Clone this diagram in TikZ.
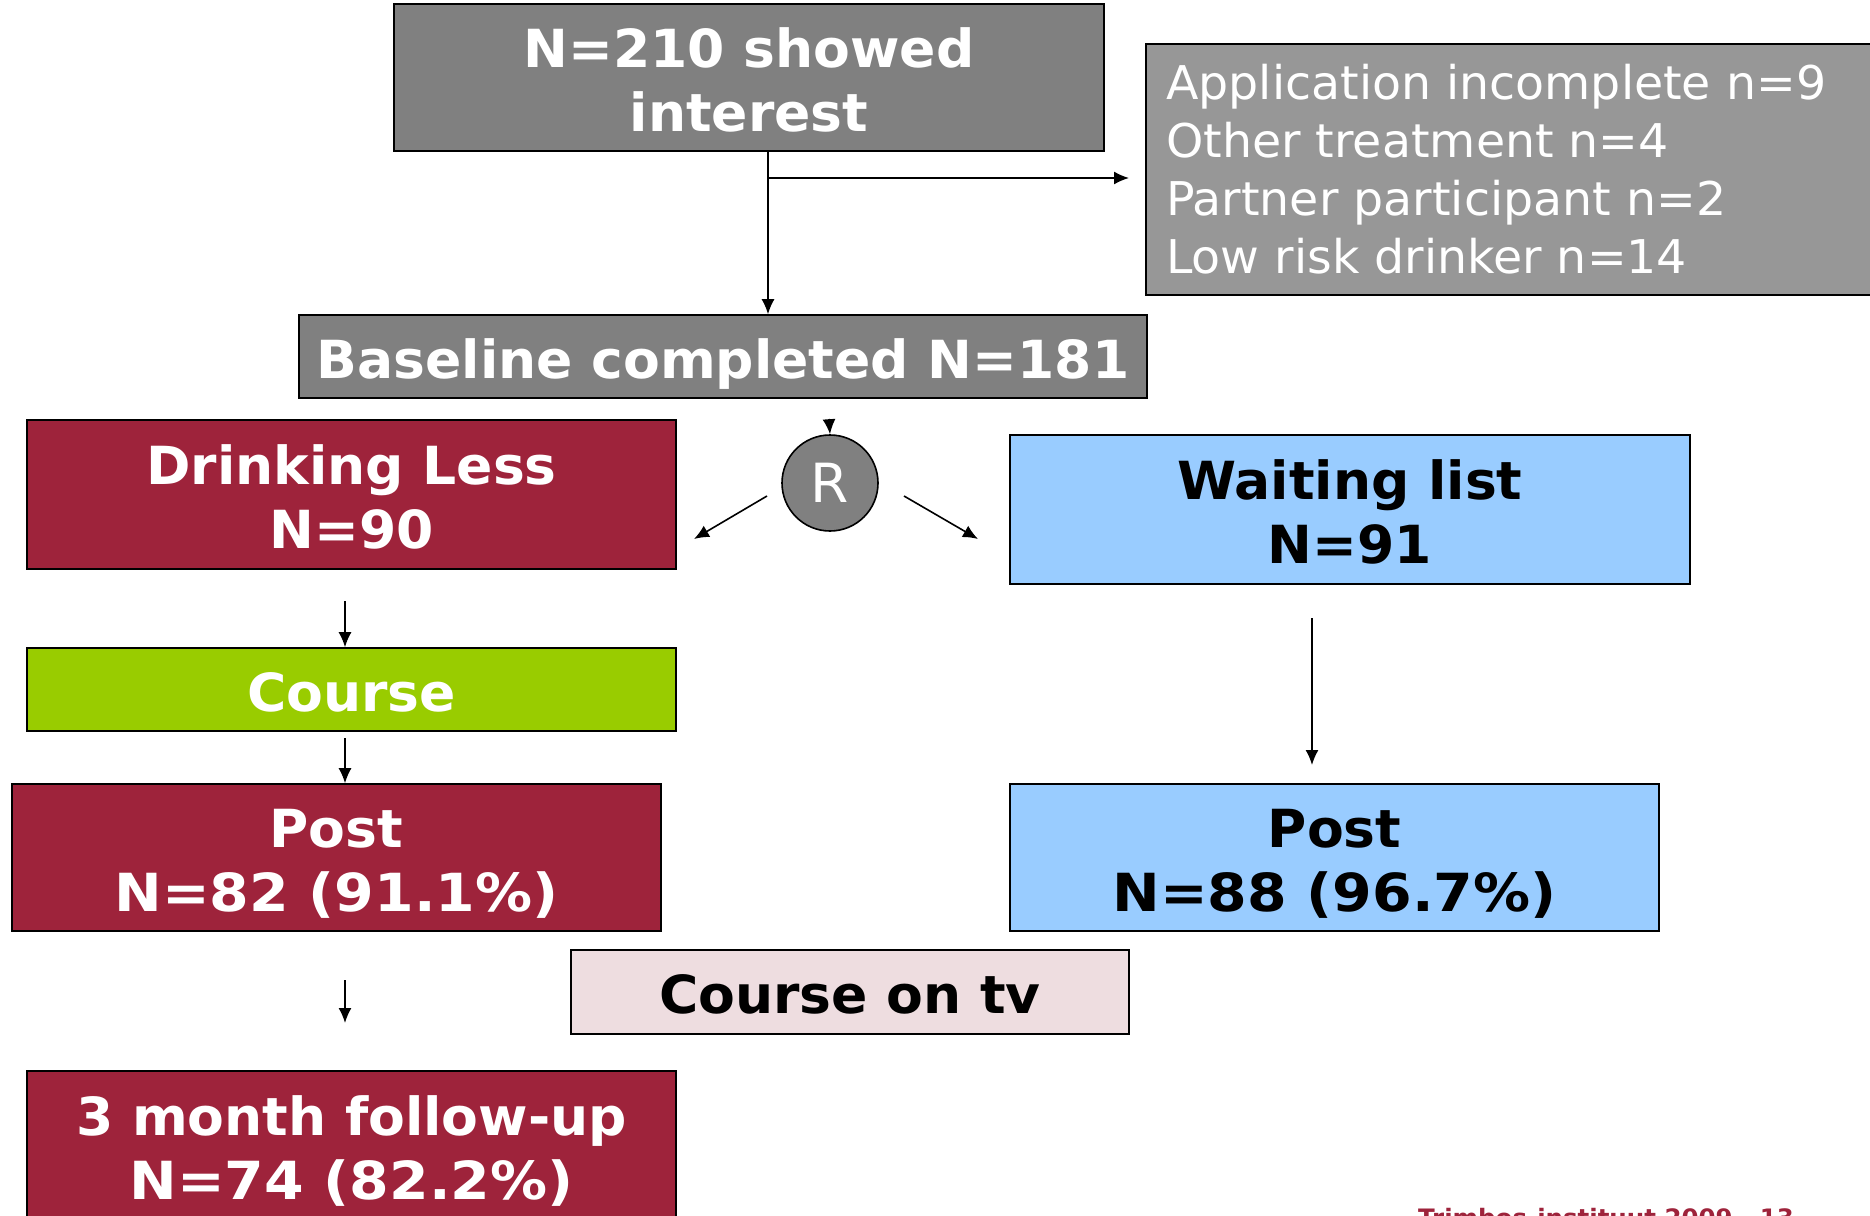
\documentclass[tikz,border=0pt]{standalone}
\usepackage{fontspec}
\setmainfont[FakeStretch=1.02]{DejaVu Sans}
\newfontfamily\widefont[FakeStretch=1.085]{DejaVu Sans}
\usetikzlibrary{arrows.meta}
\definecolor{maroonbox}{HTML}{9E233B}
\definecolor{greybox}{HTML}{808080}
\definecolor{lightgreybox}{HTML}{979797}
\definecolor{greenbox}{HTML}{99CC00}
\definecolor{bluebox}{HTML}{99CCFF}
\definecolor{pinkbox}{HTML}{EEDDE0}
\tikzset{
  box/.style={draw=black, line width=1.6pt, inner sep=0pt, align=center,
    font=\bfseries\fontsize{52.5}{64}\selectfont},
  oneline/.style={text height=43pt, text depth=0pt},
  twoline/.style={text height=107pt, text depth=0pt},
  greyb/.style={box, fill=greybox, text=white},
  maroonb/.style={box, fill=maroonbox, text=white, minimum width=649pt},
  blueb/.style={box, fill=bluebox, text=black},
  arr/.style={line width=1.6pt, -{Latex[length=15pt,width=13pt]}},
}
\begin{document}
\begin{tikzpicture}[x=1pt,y=-1pt]
\useasboundingbox (0,0) rectangle (1870,1215);
\clip (0,0) rectangle (1870,1215);
% nodes
\node[greyb, twoline, minimum width=710pt, minimum height=147pt] (top) at (749,77.5) {N=210 showed\\interest};
\node[box, fill=lightgreybox, minimum width=750pt, minimum height=251pt] (excl) at (1521,169.5) {};
\node[anchor=west, text=white, align=left, inner sep=0pt, font=\fontsize{46.5}{58}\selectfont] (excltext) at (1166,169.5)
  {Application incomplete n=9\\Other treatment n=4\\Partner participant n=2\\Low risk drinker n=14};
\node[greyb, oneline, minimum width=848pt, minimum height=83pt] (base) at (723,356.5) {Baseline completed N=181};
\node[maroonb, twoline, minimum height=149pt] (drink) at (351.5,494.5) {Drinking Less\\N=90};
\node[circle, draw=black, line width=1.6pt, fill=greybox, text=white, minimum size=96pt, inner sep=0pt,
  font=\fontsize{54}{60}\selectfont] (R) at (830,483) {R};
\node[blueb, twoline, minimum width=680pt, minimum height=149pt] (wait) at (1350,509.5) {Waiting list\\N=91};
\node[box, oneline, fill=greenbox, text=white, minimum width=649pt, minimum height=83pt] (course) at (351.5,689.5) {Course};
\node[maroonb, twoline, minimum height=147pt] (postL) at (336.5,857.5) {Post\\{\widefont N=82 (91.1\%)}};
\node[blueb, twoline, minimum width=649pt, minimum height=147pt] (postR) at (1334.5,857.5) {Post\\{\widefont N=88 (96.7\%)}};
\node[box, oneline, fill=pinkbox, text=black, minimum width=558pt, minimum height=84pt] (tv) at (850,992) {Course on tv};
\node[maroonb, twoline, minimum height=149pt] (follow) at (351.5,1145.5) {3 month follow-up\\{\widefont N=74 (82.2\%)}};
\node[anchor=base west, text=maroonbox, inner sep=0pt, font=\bfseries\fontsize{24}{28}\selectfont] (footer) at (1418,1226) {Trimbos-instituut 2009 - 13};
% coordinates
\coordinate (split) at (768,178);
\coordinate (rtop) at (829,419);
\coordinate (rl1) at (767,496);
\coordinate (rl2) at (694,539);
\coordinate (rr1) at (904,496);
\coordinate (rr2) at (978,539);
\coordinate (d1) at (345,601);
\coordinate (c1) at (345,738);
\coordinate (p1) at (345,980);
\coordinate (p2) at (345,1023);
\coordinate (w1) at (1312,618);
\coordinate (w2) at (1312,765);
% connectors
\draw[arr] (top.south -| split) -- (base.north -| split);
\draw[arr] (split) -- (1129,178) coordinate (exclin);
\draw[arr] (rtop) -- (R.north);
\draw[arr] (rl1) -- (rl2);
\draw[arr] (rr1) -- (rr2);
\draw[arr] (d1) -- (course.north -| d1);
\draw[arr] (c1) -- (postL.north -| c1);
\draw[arr] (p1) -- (p2);
\draw[arr] (w1) -- (w2);
\end{tikzpicture}
\end{document}
